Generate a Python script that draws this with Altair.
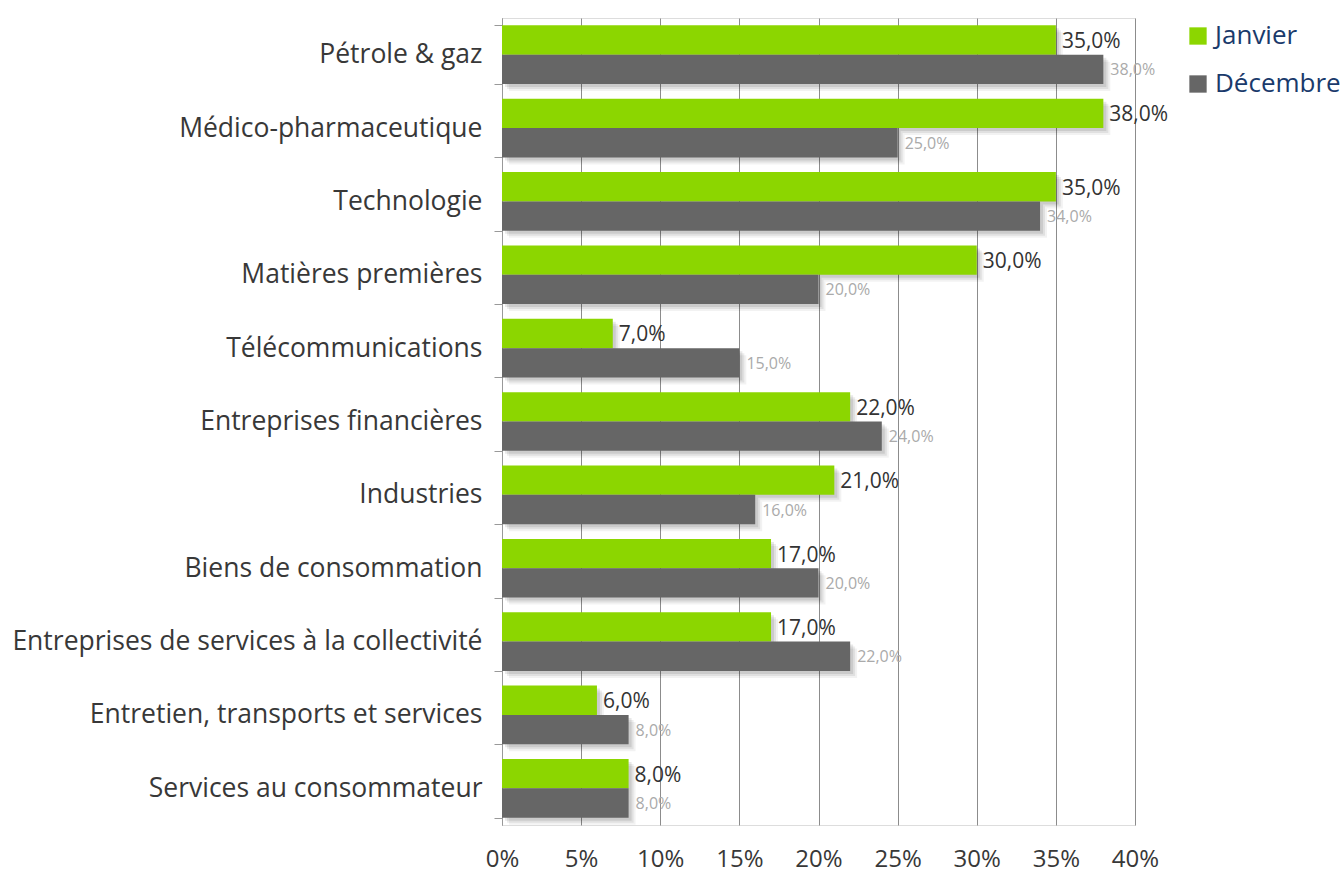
import altair as alt
import pandas as pd

categories = ["Pétrole & gaz", "Médico-pharmaceutique", "Technologie", "Matières premières",
              "Télécommunications", "Entreprises financières", "Industries",
              "Biens de consommation", "Entreprises de services à la collectivité",
              "Entretien, transports et services", "Services au consommateur"]
janvier = [35, 38, 35, 30, 7, 22, 21, 17, 17, 6, 8]
decembre = [38, 25, 34, 20, 15, 24, 16, 20, 22, 8, 8]
series = ["Janvier", "Décembre"]
colors = ["#8CD600", "#666666"]
x_ticks = [0, 5, 10, 15, 20, 25, 30, 35, 40]

rows = []
for c, j, d in zip(categories, janvier, decembre):
    rows.append({"cat": c, "serie": "Janvier", "val": j, "lab": f"{j:.1f}".replace(".", ",") + "%"})
    rows.append({"cat": c, "serie": "Décembre", "val": d, "lab": f"{d:.1f}".replace(".", ",") + "%"})
df = pd.DataFrame(rows)

FONT = "Open Sans"
W, H = 633, 807
P_IN, P_OUT = 0.2, 0.1
step = H / (len(categories) - P_IN + 2 * P_OUT)
bandw = step * (1 - P_IN)

y_enc = alt.Y("cat:N", sort=categories, title=None,
              scale=alt.Scale(paddingInner=P_IN, paddingOuter=P_OUT),
              axis=alt.Axis(labelFontSize=26.5, labelColor="#383838", labelFont=FONT,
                            tickBand="extent", tickSize=8, tickColor="#999999",
                            domainColor="#999999", labelPadding=12, labelLimit=700))


def yoff(off=0):
    return alt.YOffset("serie:N", sort=series,
                       scale=alt.Scale(type="band", domain=series, range=[off, bandw + off],
                                       paddingInner=0, paddingOuter=0))


x_enc = alt.X("val:Q", title=None,
              scale=alt.Scale(domain=[0, 40], nice=False),
              axis=alt.Axis(values=x_ticks, labelExpr="datum.value + '%'", labelFontSize=24,
                            labelColor="#383838", labelFont=FONT, ticks=False, domain=False,
                            labelFlush=False, labelPadding=22, gridColor="#8c8c8c", gridWidth=1))

base = alt.Chart(df)
ysimple = alt.Y("cat:N", sort=categories)


def shadow(off, op):
    return base.mark_bar(color="#000000", opacity=op, xOffset=off).encode(
        y=ysimple, yOffset=yoff(off), x=alt.X("val:Q"))


bars = base.mark_bar().encode(
    y=y_enc, yOffset=yoff(0), x=x_enc,
    color=alt.Color("serie:N", sort=series,
                    scale=alt.Scale(domain=series, range=colors),
                    legend=alt.Legend(title=None, orient="none", legendX=683, legendY=5,
                                      symbolType="square", symbolSize=300, symbolStrokeWidth=0,
                                      labelFontSize=26, labelColor="#1A3A6B", labelFont=FONT,
                                      rowPadding=22, symbolOffset=0, labelOffset=4)),
)

txt_j = base.transform_filter("datum.serie == 'Janvier'").mark_text(
    align="left", baseline="middle", dx=6, dy=2, fontSize=21, color="#333333", font=FONT
).encode(y=ysimple, yOffset=yoff(0), x=alt.X("val:Q"), text="lab:N")

txt_d = base.transform_filter("datum.serie == 'Décembre'").mark_text(
    align="left", baseline="middle", dx=7, dy=1, fontSize=16, color="#aaaaaa", font=FONT
).encode(y=ysimple, yOffset=yoff(0), x=alt.X("val:Q"), text="lab:N")

chart = alt.layer(
    shadow(7, 0.05), shadow(5, 0.07), shadow(3, 0.09), bars, txt_j, txt_d
).resolve_scale(yOffset="independent").properties(
    width=W, height=H,
    autosize=alt.AutoSizeParams(type="none"),
    padding={"left": 502, "top": 18, "right": 208, "bottom": 48},
).configure_view(strokeOpacity=0, strokeWidth=0).configure(background="white")

chart.save("out.html", embed_options={"renderer": "svg", "actions": False})
